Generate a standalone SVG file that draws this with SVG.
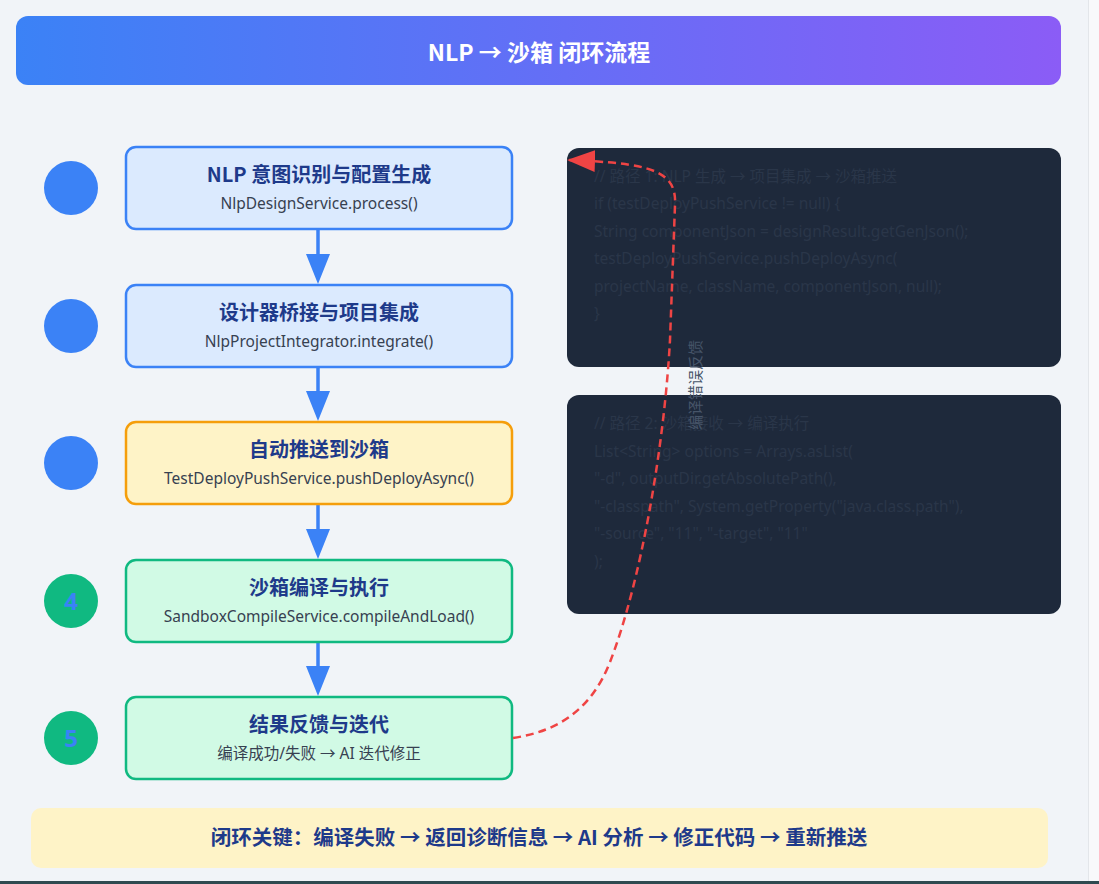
<svg xmlns="http://www.w3.org/2000/svg" width="1099" height="884" viewBox="0 0 1099 884">
<defs>
<linearGradient id="hdr" x1="0" y1="0" x2="1" y2="0">
<stop offset="0" stop-color="#3b82f6"/>
<stop offset="1" stop-color="#8b5cf6"/>
</linearGradient>
<marker id="redHead" markerWidth="28" markerHeight="22" refX="28" refY="11" orient="auto" markerUnits="userSpaceOnUse" viewBox="0 0 28 22">
<path d="M0,0 L28,11 L0,22 Z" fill="#ef4444"/>
</marker>
<style>
.step-title{font-family:"Noto Sans CJK SC","Noto Sans",sans-serif;font-weight:700;font-size:20px;fill:#1e3a8a;text-anchor:middle}
.step-sub{font-family:"Noto Sans","Noto Sans CJK SC",sans-serif;font-size:15.5px;fill:#374151;text-anchor:middle}
.num{font-family:"Noto Sans","Noto Sans CJK SC",sans-serif;font-weight:700;font-size:24px;fill:#3b82f6;text-anchor:middle}
.code{font-family:"Noto Sans","Noto Sans CJK SC",sans-serif;font-size:15.5px;fill:#2a3649}
.blue-box{fill:#dbeafe;stroke:#3b82f6;stroke-width:2.5}
.orange-box{fill:#fef3c7;stroke:#f59e0b;stroke-width:2.5}
.green-box{fill:#d1fae5;stroke:#10b981;stroke-width:2.5}
.flow{stroke:#3b82f6;stroke-width:3.5;fill:none}
.head{fill:#3b82f6}
</style>
</defs>
<rect x="0" y="0" width="1099" height="884" fill="#f1f4f8"/>
<rect x="1089" y="0" width="10" height="884" fill="#f8f9fb"/>
<line x1="1088.5" y1="0" x2="1088.5" y2="881" stroke="#e3e6ea" stroke-width="1"/>
<rect x="0" y="881" width="1099" height="3" fill="#2f4a50"/>

<g id="header">
<rect x="16" y="16" width="1045" height="69" rx="12" fill="url(#hdr)"/>
<text x="539" y="61" text-anchor="middle" font-family="Noto Sans CJK SC,Noto Sans,sans-serif" font-weight="700" font-size="23" fill="#ffffff">NLP → 沙箱 闭环流程</text>
</g>

<g id="connectors">
<line class="flow" x1="318" y1="229" x2="318" y2="256"/>
<path class="head" d="M306,254 L330,254 L318,284 Z"/>
<line class="flow" x1="318" y1="367" x2="318" y2="393"/>
<path class="head" d="M306,391 L330,391 L318,421 Z"/>
<line class="flow" x1="318" y1="504" x2="318" y2="531"/>
<path class="head" d="M306,529 L330,529 L318,559 Z"/>
<line class="flow" x1="318" y1="642" x2="318" y2="668"/>
<path class="head" d="M306,666 L330,666 L318,696 Z"/>
</g>

<g id="step1">
<circle cx="71" cy="188" r="27" fill="#3b82f6"/>
<text class="num" x="71" y="197">1</text>
<rect class="blue-box" x="126" y="147" width="386" height="82" rx="10"/>
<text class="step-title" x="319" y="182">NLP 意图识别与配置生成</text>
<text class="step-sub" x="319" y="209">NlpDesignService.process()</text>
</g>
<g id="step2">
<circle cx="71" cy="326" r="27" fill="#3b82f6"/>
<text class="num" x="71" y="335">2</text>
<rect class="blue-box" x="126" y="285" width="386" height="82" rx="10"/>
<text class="step-title" x="319" y="320">设计器桥接与项目集成</text>
<text class="step-sub" x="319" y="347">NlpProjectIntegrator.integrate()</text>
</g>
<g id="step3">
<circle cx="71" cy="463" r="27" fill="#3b82f6"/>
<text class="num" x="71" y="472">3</text>
<rect class="orange-box" x="126" y="422" width="386" height="82" rx="10"/>
<text class="step-title" x="319" y="457">自动推送到沙箱</text>
<text class="step-sub" x="319" y="484">TestDeployPushService.pushDeployAsync()</text>
</g>
<g id="step4">
<circle cx="71" cy="601" r="27" fill="#10b981"/>
<text class="num" x="71" y="610">4</text>
<rect class="green-box" x="126" y="560" width="386" height="82" rx="10"/>
<text class="step-title" x="319" y="595">沙箱编译与执行</text>
<text class="step-sub" x="319" y="622">SandboxCompileService.compileAndLoad()</text>
</g>
<g id="step5">
<circle cx="71" cy="738" r="27" fill="#10b981"/>
<text class="num" x="71" y="747">5</text>
<rect class="green-box" x="126" y="697" width="386" height="82" rx="10"/>
<text class="step-title" x="319" y="732">结果反馈与迭代</text>
<text class="step-sub" x="319" y="759">编译成功/失败 → AI 迭代修正</text>
</g>

<g id="code1">
<rect x="567" y="148" width="494" height="219" rx="12" fill="#1e293b"/>
<text class="code" x="594" y="182">// 路径 1: NLP 生成 → 项目集成 → 沙箱推送</text>
<text class="code" x="594" y="209">if (testDeployPushService != null) {</text>
<text class="code" x="594" y="237">String componentJson = designResult.getGenJson();</text>
<text class="code" x="594" y="264">testDeployPushService.pushDeployAsync(</text>
<text class="code" x="594" y="292">projectName, className, componentJson, null);</text>
<text class="code" x="594" y="319">}</text>
</g>
<g id="code2">
<rect x="567" y="395" width="494" height="219" rx="12" fill="#1e293b"/>
<text class="code" x="594" y="429">// 路径 2: 沙箱接收 → 编译执行</text>
<text class="code" x="594" y="457">List&lt;String&gt; options = Arrays.asList(</text>
<text class="code" x="594" y="484">"-d", outputDir.getAbsolutePath(),</text>
<text class="code" x="594" y="512">"-classpath", System.getProperty("java.class.path"),</text>
<text class="code" x="594" y="539">"-source", "11", "-target", "11"</text>
<text class="code" x="594" y="567">);</text>
</g>

<g id="feedback">
<path d="M513,738 C560,731 592,708 610,662 C640,585 664,450 670,340 L675,205 C677,170 650,163 567,160" fill="none" stroke="#ef4444" stroke-width="2.5" stroke-dasharray="8,5" marker-end="url(#redHead)"/>
<text x="697" y="385" transform="rotate(-90 697 385)" text-anchor="middle" dominant-baseline="middle" font-family="Noto Sans CJK SC,sans-serif" font-size="15" fill="#475569">编译错误反馈</text>
</g>

<g id="footer">
<rect x="31" y="808" width="1017" height="60" rx="10" fill="#fef3c7"/>
<text x="539" y="845" text-anchor="middle" font-family="Noto Sans CJK SC,Noto Sans,sans-serif" font-weight="700" font-size="20.5" fill="#1e3a8a">闭环关键：编译失败 → 返回诊断信息 → AI 分析 → 修正代码 → 重新推送</text>
</g>
</svg>
